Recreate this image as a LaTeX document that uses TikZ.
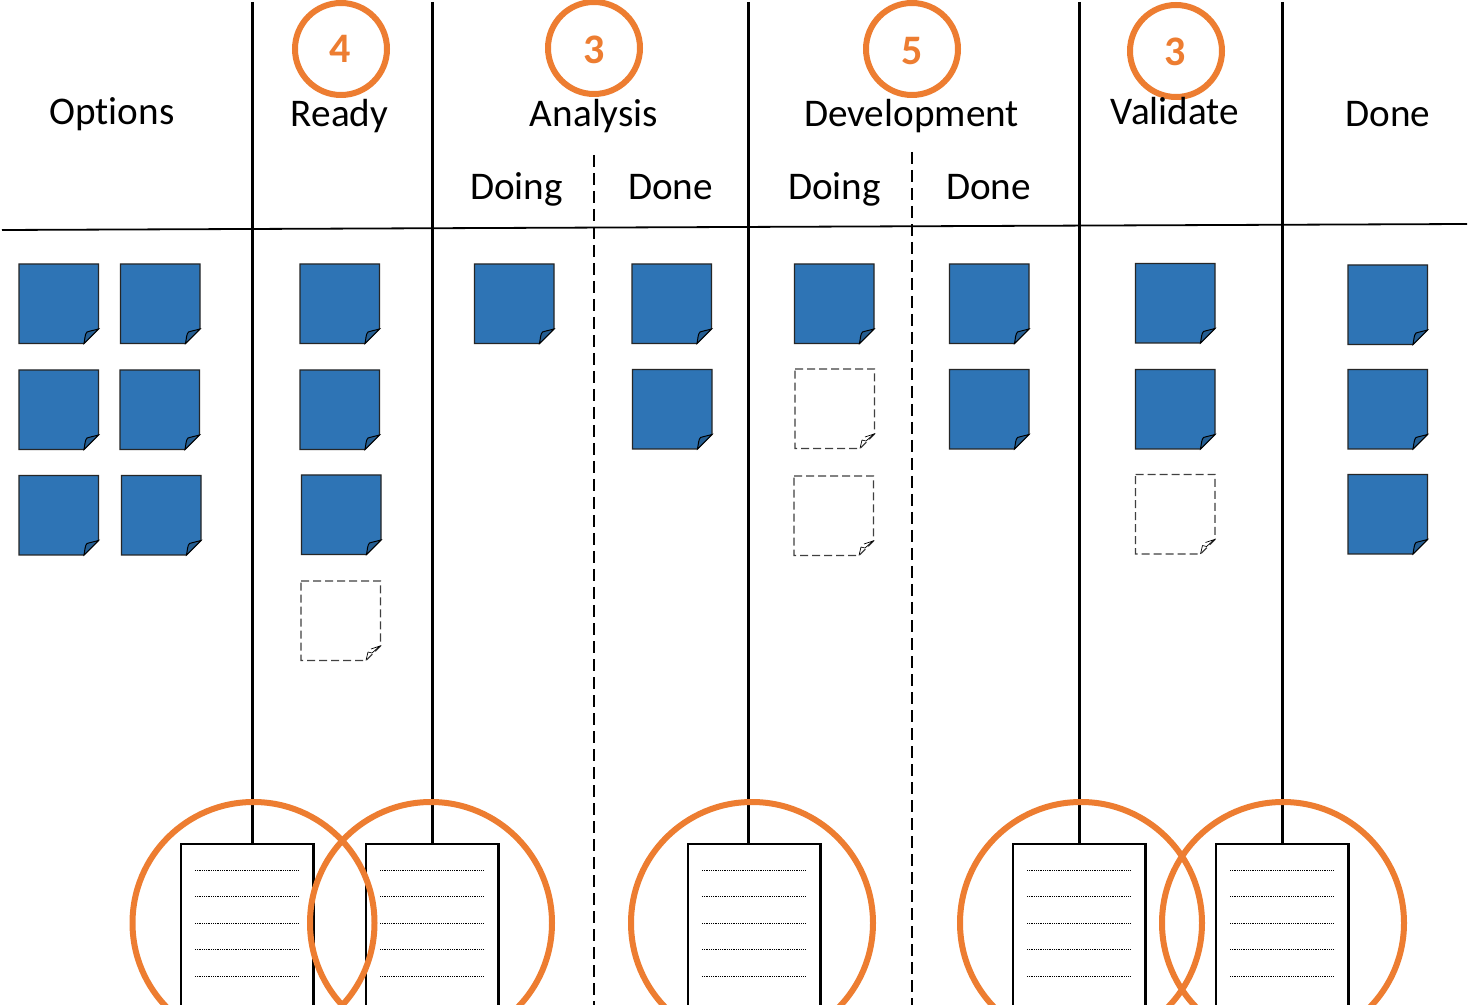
\documentclass[tikz,border=0pt]{standalone}
\usepackage{fontspec}
\setmainfont[RawFeature={-liga}]{Carlito}
\definecolor{noteblue}{HTML}{2E74B5}
\definecolor{foldblue}{HTML}{255E92}
\definecolor{accent}{HTML}{ED7D31}
\tikzset{
  px/.style={x=0.5pt,y=-0.5pt},
  heading/.style={inner sep=0pt,font=\fontsize{19.6}{22}\selectfont,text=black,anchor=base},
  limitnum/.style={inner sep=0pt,font=\fontsize{21}{24}\selectfont\bfseries,text=accent,anchor=base},
  bar/.style={draw=black,line width=1.25pt},
  splitbar/.style={draw=black,line width=1pt,dash pattern=on 6pt off 3pt},
  limitring/.style={circle,draw=accent,line width=3pt,minimum size=46pt,inner sep=0pt},
  bigring/.style={circle,draw=accent,line width=3pt,minimum size=121pt,inner sep=0pt},
  docbox/.style={draw=black,line width=1.2pt,fill=white},
  docline/.style={draw=black,line width=0.45pt,dash pattern=on 0.5pt off 0.4pt},
}
% \solidnote{x}{y}: blue sticky note with top-left corner at x,y
\newcommand{\solidnote}[2]{%
  \begin{scope}[shift={(#1,#2)}]
    \draw[fill=noteblue,draw=black!85,line width=0.65pt] (0,0)--(79.5,0)--(79.5,65)--(65,79.5)--(0,79.5)--cycle;
    \draw[fill=foldblue,draw=black,line width=0.5pt] (65,79.5) .. controls (66,74) and (66,70) .. (68,68) .. controls (71,67) and (76,66) .. (79.5,65)--cycle;
  \end{scope}}
% \emptynote{x}{y}: dashed empty sticky note
\newcommand{\emptynote}[2]{%
  \begin{scope}[shift={(#1,#2)}]
    \draw[draw=black!75,line width=0.6pt,dash pattern=on 4pt off 2pt,fill=white] (0,0)--(79.5,0)--(79.5,65)--(65,79.5)--(0,79.5)--cycle;
    \draw[draw=black,line width=0.35pt] (65,79.5)--(67,71) (67,71)--(71,72) (71,72)--(79,65)--(70,68);
  \end{scope}}
% \docsheet{name}{left}: document sheet
\newcommand{\docsheet}[2]{%
  \node[docbox,rectangle,outer sep=0pt,minimum width=66.25pt,minimum height=81.5pt,inner sep=0pt,anchor=north west] (#1) at (#2,844) {};
  \foreach \yy in {870,896.5,923,949.5,976}{\draw[docline] (#2+14,\yy)--(#2+118,\yy);}}
\begin{document}
\begin{tikzpicture}[px]
\useasboundingbox (0,0) rectangle (1468,1005);
\clip (0,0) rectangle (1468,1005);
\fill[white] (0,0) rectangle (1468,1005);
% free ends
\coordinate (hl) at (2,230); \coordinate (hr) at (1467,224);
\foreach \n/\x in {a/252.5,b/432.5,c/748.5,d/1079.5,e/1282.5}{
  \coordinate (top\n) at (\x,2); \coordinate (bot\n) at (\x,850);}
\coordinate (s1t) at (594,155); \coordinate (s1b) at (594,1005);
\coordinate (s2t) at (912,152); \coordinate (s2b) at (912,1005);
% lines
\draw[bar,line width=0.9pt] (hl)--(hr);
\foreach \n in {a,b,c,d,e}{\draw[bar] (top\n)--(bot\n);}
\draw[splitbar] (s1t)--(s1b);
\draw[splitbar] (s2t)--(s2b);
% notes
\solidnote{19}{264}\solidnote{120.5}{264}
\solidnote{19}{370}\solidnote{120}{370}
\solidnote{19}{475.5}\solidnote{121.5}{475.5}
\solidnote{300}{264}\solidnote{300}{370}\solidnote{301.5}{475}\emptynote{301}{581}
\solidnote{474.5}{264}
\solidnote{632}{264}\solidnote{632.5}{369.5}
\solidnote{794.5}{264}\emptynote{795}{369}\emptynote{794}{476}
\solidnote{949.5}{264}\solidnote{949.5}{369.5}
\solidnote{1135.5}{263.5}\solidnote{1135.5}{369.5}\emptynote{1135.5}{474.5}
\solidnote{1348}{265}\solidnote{1348}{369.5}\solidnote{1348}{474.5}
% documents
\docsheet{doca}{181}
\docsheet{docb}{366}
\docsheet{docc}{688}
\docsheet{docd}{1013}
\docsheet{doce}{1216}
% rings
\node[bigring] (ra) at (253.5,923) {};
\node[bigring] (rb) at (431,923) {};
\node[bigring] (rc) at (752,923) {};
\node[bigring] (rd) at (1081,923) {};
\node[bigring] (re) at (1283,923) {};
\node[limitring] (la) at (341,49) {};
\node[limitring] (lb) at (594,48) {};
\node[limitring] (lc) at (912,49) {};
\node[limitring] (ld) at (1176,51) {};
\node[limitnum] (na) at (340,63) {4};
\node[limitnum] (nb) at (594,64) {3};
\node[limitnum] (nc) at (912,65) {5};
\node[limitnum] (nd) at (1175,66) {3};
% headings
\node[heading] (h1) at (112,125) {Options};
\node[heading] (h2) at (339.5,127) {Ready};
\node[heading] (h3) at (594,127) {Analysis};
\node[heading] (h4) at (911.5,127) {Development};
\node[heading] (h5) at (1175,125) {Validate};
\node[heading] (h6) at (1388,127) {Done};
\node[heading] (h7) at (516.5,200) {Doing};
\node[heading] (h8) at (670.5,200) {Done};
\node[heading] (h9) at (834.5,200) {Doing};
\node[heading] (h10) at (988.5,200) {Done};
\end{tikzpicture}
\end{document}
